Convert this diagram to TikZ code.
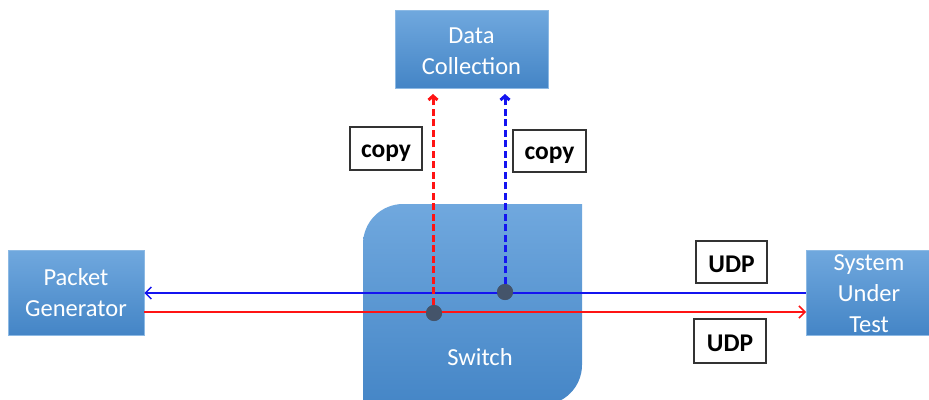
\documentclass[tikz,border=0pt]{standalone}
\usepackage{fontspec}
\setmainfont{Carlito}
\usetikzlibrary{arrows.meta}
\definecolor{boxtop}{RGB}{112,168,222}
\definecolor{boxbot}{RGB}{68,133,198}
\definecolor{boxedge}{RGB}{140,185,228}
\definecolor{dotc}{RGB}{68,84,106}
\definecolor{myred}{RGB}{255,20,20}
\definecolor{myblue}{RGB}{20,20,240}
\tikzset{
  bluebox/.style={rectangle, top color=boxtop, bottom color=boxbot, draw=boxedge, line width=0.6pt,
    text=white, font=\fontsize{24.5}{31}\selectfont, align=center, inner sep=0pt},
  whitetext/.style={text=white, font=\fontsize{24.5}{31}\selectfont, align=center},
  lblbox/.style={rectangle, draw=black!80, line width=1.2pt, fill=white, font=\fontsize{25.5}{28}\selectfont\bfseries,
    inner sep=0pt, text depth=0pt},
  flow/.style={line width=1.5pt},
  copyline/.style={line width=3pt, dash pattern=on 7pt off 3.5pt},
  dotnode/.style={circle, fill=dotc, minimum size=16pt, inner sep=0pt},
}
\begin{document}
\begin{tikzpicture}[x=1pt,y=-1pt]
\useasboundingbox (0,0) rectangle (929,399);
% switch
\shade[top color=boxtop, bottom color=boxbot, shading angle=0]
  (363,410) -- (363,244) .. controls (363,222) and (381,204) .. (403,204)
  -- (582,204) -- (582,365) .. controls (582,387) and (564,405) .. (542,405) -- (363,405) -- cycle;
\node[whitetext] (sw) at (480,357) {Switch};
% boxes
\node[bluebox, minimum width=153pt, minimum height=78pt] (dc) at (471.5,49) {};
\node[whitetext] (dctext) at (471.5,51) {Data\\Collection};
\node[bluebox, minimum width=136pt, minimum height=85pt] (pg) at (76,292.5) {Packet\\Generator};
\node[bluebox, minimum width=130pt, minimum height=85pt, anchor=west] (sut) at (806,292.5) {};
\node[whitetext] (suttext) at (869,294) {System\\Under\\Test};
% dots
\node[dotnode] (d1) at (434,313) {};
\node[dotnode] (d2) at (505,292) {};
% flows
\draw[flow, myblue, -{Straight Barb[length=6pt,width=12pt]}] (sut.west |- 0,293) -- (pg.east |- 0,293);
\draw[flow, myred, -{Straight Barb[length=6pt,width=12pt]}] (pg.east |- 0,312) -- (sut.west |- 0,312);
\node[dotnode] at (434,313) {};
\node[dotnode] at (505,292) {};
\coordinate (r1) at (433,94);
\coordinate (b1) at (505,94);
\draw[copyline, myred, -{Straight Barb[length=4pt,width=9pt]}] (d1.north) ++(-1,0) -- (r1);
\draw[copyline, myblue, -{Straight Barb[length=4pt,width=9pt]}] (d2.north) -- (b1);
% labels
\node[lblbox, text height=17pt, minimum width=72pt, minimum height=43pt] (c1) at (386,148.5) {copy};
\node[lblbox, text height=17pt, minimum width=73pt, minimum height=42pt] (c2) at (549.5,151) {copy};
\node[lblbox, text height=20pt, minimum width=71pt, minimum height=42pt] (u1) at (731.5,262) {UDP};
\node[lblbox, text height=20pt, minimum width=72pt, minimum height=44pt] (u2) at (730,341) {UDP};
\end{tikzpicture}
\end{document}
